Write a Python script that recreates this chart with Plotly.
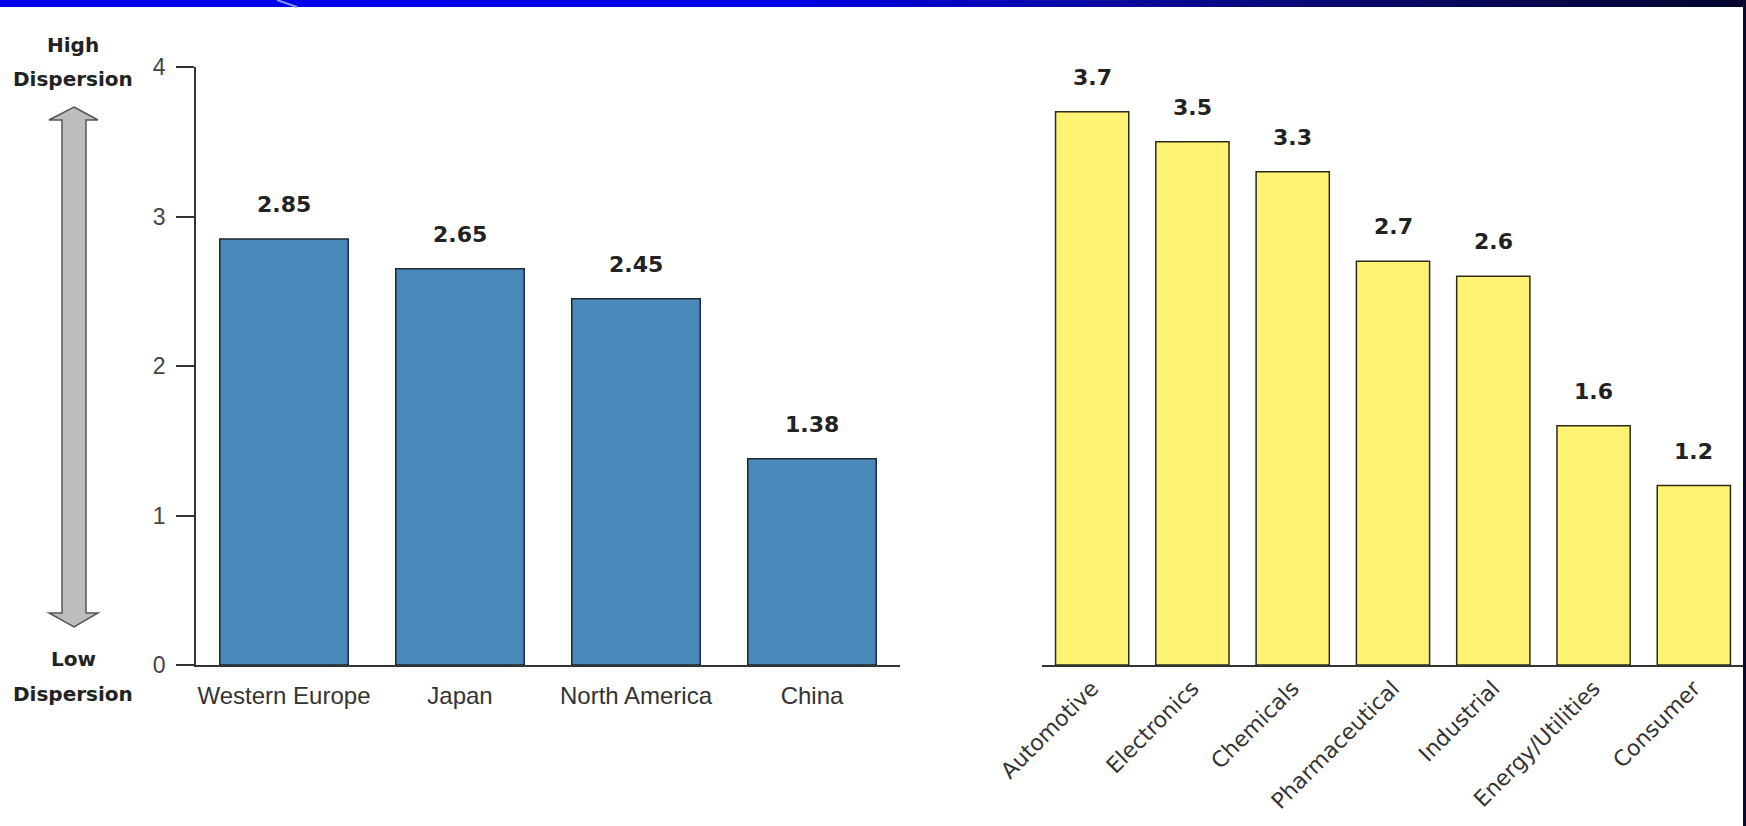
import plotly.graph_objects as go

W, H = 1746, 826

# ---- data ----
regions = ["Western Europe", "Japan", "North America", "China"]
region_values = [2.85, 2.65, 2.45, 1.38]
region_labels = ["2.85", "2.65", "2.45", "1.38"]

industries = ["Automotive", "Electronics", "Chemicals", "Pharmaceutical",
              "Industrial", "Energy/Utilities", "Consumer"]
industry_values = [3.7, 3.5, 3.3, 2.7, 2.6, 1.6, 1.2]
industry_labels = ["3.7", "3.5", "3.3", "2.7", "2.6", "1.6", "1.2"]

y_ticks = [0, 1, 2, 3, 4]


def px(x):
    return x / W


def py(y):
    return 1 - y / H


Y_DOMAIN = [py(665), py(67)]

fig = go.Figure()

fig.add_trace(go.Bar(
    x=regions, y=region_values, xaxis="x", yaxis="y",
    marker=dict(color="#4A89BC", line=dict(color="#1E2A36", width=1.5)),
    hoverinfo="skip", showlegend=False,
))
fig.add_trace(go.Bar(
    x=industries, y=industry_values, xaxis="x2", yaxis="y2",
    marker=dict(color="#FFF373", line=dict(color="#2E2A1A", width=1.5)),
    hoverinfo="skip", showlegend=False,
))

annotations = []
label_font = dict(family="DejaVu Sans", size=22, color="#222222", weight="bold")
for cat, val, txt in zip(regions, region_values, region_labels):
    annotations.append(dict(x=cat, y=val, xref="x", yref="y", text=txt,
                            showarrow=False, yanchor="bottom", yshift=20,
                            font=label_font))
for cat, val, txt in zip(industries, industry_values, industry_labels):
    annotations.append(dict(x=cat, y=val, xref="x2", yref="y2", text=txt,
                            showarrow=False, yanchor="bottom", yshift=20,
                            font=label_font))

side_font = dict(family="DejaVu Sans", size=20, color="#222222", weight="bold")
for txt, y in [("High", 45), ("Dispersion", 79), ("Low", 659), ("Dispersion", 694)]:
    annotations.append(dict(x=px(73), y=py(y), xref="paper", yref="paper",
                            text=txt, showarrow=False, xanchor="center",
                            yanchor="middle", font=side_font))

shapes = []
# top gradient band
stops = [(0, (0, 0, 238)), (800, (0, 0, 228)), (1100, (10, 10, 160)),
         (1400, (8, 8, 100)), (1746, (5, 5, 45))]
n = 90
for i in range(n):
    x0 = W * i / n
    x1 = W * (i + 1) / n
    xm = (x0 + x1) / 2
    for (a, ca), (b, cb) in zip(stops[:-1], stops[1:]):
        if a <= xm <= b:
            t = (xm - a) / (b - a)
            c = tuple(int(round(ca[k] + (cb[k] - ca[k]) * t)) for k in range(3))
            break
    shapes.append(dict(type="rect", xref="paper", yref="paper",
                       x0=px(x0), x1=px(x1) + 0.0005, y0=py(7), y1=1,
                       fillcolor="rgb(%d,%d,%d)" % c, line=dict(width=0),
                       layer="above"))
shapes.append(dict(type="line", xref="paper", yref="paper",
                   x0=px(277), y0=1, x1=px(297), y1=py(7),
                   line=dict(color="#7F95FF", width=2), layer="above"))
# right dark strip
shapes.append(dict(type="rect", xref="paper", yref="paper",
                   x0=px(1743), x1=1, y0=0, y1=1,
                   fillcolor="#0A0A2C", line=dict(width=0), layer="above"))
# double-headed arrow
pts = [(74, 107), (98, 120), (86, 120), (86, 613), (98, 613), (74, 627),
       (49, 613), (62, 613), (62, 120), (49, 120)]
path = "M " + " L ".join("%f,%f" % (px(x), py(y)) for x, y in pts) + " Z"
shapes.append(dict(type="path", xref="paper", yref="paper", path=path,
                   fillcolor="#BDBDBD", line=dict(color="#555555", width=1.5)))

tick_font = dict(family="Liberation Sans", size=24, color="#333333")

fig.update_layout(
    width=W, height=H,
    margin=dict(l=0, r=0, t=0, b=0, pad=0, autoexpand=False),
    paper_bgcolor="white", plot_bgcolor="white",
    bargap=0.27,
    showlegend=False,
    xaxis=dict(domain=[px(196), px(900)], anchor="y", range=[-0.5, 3.5],
               showline=True, linecolor="#333333", linewidth=1.5,
               ticks="", showgrid=False, zeroline=False, automargin=False,
               tickfont=tick_font, ticklabelstandoff=8),
    yaxis=dict(domain=Y_DOMAIN, anchor="x", range=[0, 4],
               tickvals=y_ticks, ticktext=[str(v) for v in y_ticks],
               showline=True, linecolor="#333333", linewidth=1.5,
               ticks="outside", ticklen=18, tickwidth=1.5, tickcolor="#333333",
               showgrid=False, zeroline=False, automargin=False,
               tickfont=dict(family="Liberation Sans", size=23, color="#444444"),
               ticklabelstandoff=6),
    xaxis2=dict(domain=[px(1042), px(1744)], anchor="y2", range=[-0.5, 6.5],
                showline=True, linecolor="#333333", linewidth=1.5,
                ticks="", showgrid=False, zeroline=False, tickangle=-45,
                automargin=False,
                tickfont=dict(family="DejaVu Sans", size=22, color="#333333"),
                ticklabelstandoff=0),
    yaxis2=dict(domain=Y_DOMAIN, anchor="x2", range=[0, 4], visible=False,
                automargin=False),
    annotations=annotations,
    shapes=shapes,
)

fig.write_html(
    "out.html",
    config=dict(displayModeBar=False),
    post_script="document.body.style.margin='0px';document.body.style.overflow='hidden';",
)
